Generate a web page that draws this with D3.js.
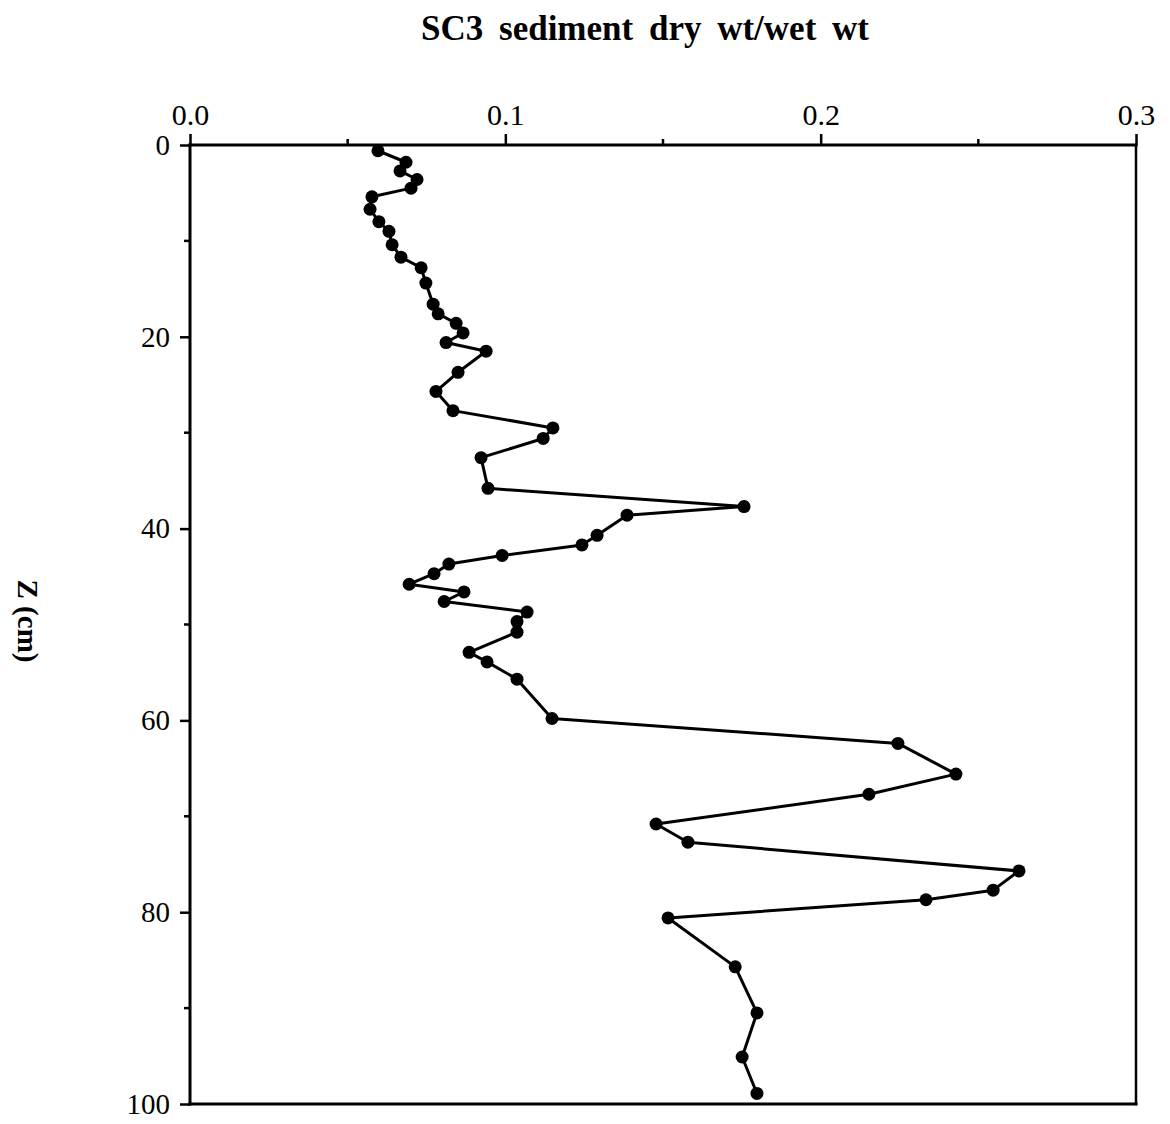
<!DOCTYPE html>
<html><head><meta charset="utf-8">
<script src="https://cdn.jsdelivr.net/npm/d3@7"></script>
<style>body{margin:0;background:#fff}svg{display:block}</style>
</head><body>
<svg id="c" width="1170" height="1124"></svg>
<script>
const depth = [0.6,1.8,2.7,3.6,4.5,5.4,6.7,8.0,9.0,10.4,11.7,12.8,14.4,16.6,17.6,18.6,19.6,20.6,21.5,23.7,25.7,27.7,29.5,30.6,32.6,35.8,37.7,38.6,40.7,41.7,42.8,43.7,44.7,45.8,46.6,47.6,48.7,49.7,50.8,52.9,53.9,55.7,59.8,62.4,65.6,67.7,70.8,72.7,75.7,77.7,78.7,80.6,85.7,90.5,95.1,98.9];
const ratio = [0.0596,0.0685,0.0666,0.0720,0.0701,0.0577,0.0571,0.0599,0.0631,0.0641,0.0669,0.0733,0.0748,0.0771,0.0787,0.0844,0.0866,0.0812,0.0939,0.0850,0.0780,0.0834,0.1151,0.1120,0.0923,0.0945,0.1757,0.1386,0.1291,0.1243,0.0990,0.0821,0.0774,0.0695,0.0869,0.0806,0.1069,0.1037,0.1037,0.0885,0.0942,0.1037,0.1148,0.2245,0.2429,0.2153,0.1478,0.1579,0.2629,0.2547,0.2334,0.1516,0.1729,0.1798,0.1751,0.1798];
const xTicks = [0, 0.1, 0.2, 0.3];
const xTickLabels = ["0.0", "0.1", "0.2", "0.3"];
const xMinor = [0.05, 0.15, 0.25];
const yTicks = [0, 20, 40, 60, 80, 100];
const yMinor = [10, 30, 50, 70, 90];
const title = "SC3 sediment dry wt/wet wt";
const yTitle = "Z (cm)";

const svg = d3.select("#c");
const L = 190, R = 1136, T = 145, B = 1104;
const x = d3.scaleLinear().domain([0, 0.3]).range([L, R]);
const y = d3.scaleLinear().domain([0, 100]).range([T, B]);
const font = "'Liberation Serif', 'Times New Roman', serif";

// frame
const sw = 3;
svg.append("line").attr("x1", L).attr("x2", R).attr("y1", T).attr("y2", T).attr("stroke", "#000").attr("stroke-width", sw).attr("stroke-linecap","square");
svg.append("line").attr("x1", L).attr("x2", R).attr("y1", B).attr("y2", B).attr("stroke", "#000").attr("stroke-width", sw).attr("stroke-linecap","square");
svg.append("line").attr("x1", L).attr("x2", L).attr("y1", T).attr("y2", B).attr("stroke", "#000").attr("stroke-width", sw).attr("stroke-linecap","square");
svg.append("line").attr("x1", R).attr("x2", R).attr("y1", T).attr("y2", B).attr("stroke", "#000").attr("stroke-width", 2.5).attr("stroke-linecap","square");

// top axis
const xAxis = d3.axisTop(x).tickValues(xTicks).tickFormat((d,i) => xTickLabels[i]).tickSize(11).tickPadding(9);
const gx = svg.append("g").attr("transform", `translate(0,${T})`).call(xAxis);
gx.select(".domain").remove();
gx.selectAll(".tick line").attr("stroke-width", 2.5);
gx.selectAll(".tick text").attr("font-family", font).attr("font-size", 30).attr("fill", "#000");
svg.append("g").selectAll("line").data(xMinor).join("line")
  .attr("x1", d => x(d)).attr("x2", d => x(d)).attr("y1", T).attr("y2", T - 6)
  .attr("stroke", "#000").attr("stroke-width", 2.5);

// left axis
const yAxis = d3.axisLeft(y).tickValues(yTicks).tickFormat(d3.format("d")).tickSize(10).tickPadding(10);
const gy = svg.append("g").attr("transform", `translate(${L},0)`).call(yAxis);
gy.select(".domain").remove();
gy.selectAll(".tick line").attr("stroke-width", 2.5);
gy.selectAll(".tick text").attr("font-family", font).attr("font-size", 29).attr("fill", "#000");
svg.append("g").selectAll("line").data(yMinor).join("line")
  .attr("x1", L).attr("x2", L - 6).attr("y1", d => y(d)).attr("y2", d => y(d))
  .attr("stroke", "#000").attr("stroke-width", 2.5);

// data line
const pts = depth.map((d, i) => [ratio[i], d]);
svg.append("path").datum(pts)
  .attr("d", d3.line().x(d => x(d[0])).y(d => y(d[1])))
  .attr("fill", "none").attr("stroke", "#000").attr("stroke-width", 3).attr("stroke-linejoin", "round");
svg.append("g").selectAll("circle").data(pts).join("circle")
  .attr("cx", d => x(d[0])).attr("cy", d => y(d[1])).attr("r", 6.5).attr("fill", "#000");

// titles
svg.append("text").attr("x", 645).attr("y", 40).attr("text-anchor", "middle")
  .attr("font-family", font).attr("font-weight", "bold").attr("font-size", 35)
  .attr("word-spacing", 7).text(title);
svg.append("text").attr("transform", `translate(18,621) rotate(90)`).attr("text-anchor", "middle")
  .attr("font-family", font).attr("font-weight", "bold").attr("font-size", 29).text(yTitle);
</script>
</body></html>
